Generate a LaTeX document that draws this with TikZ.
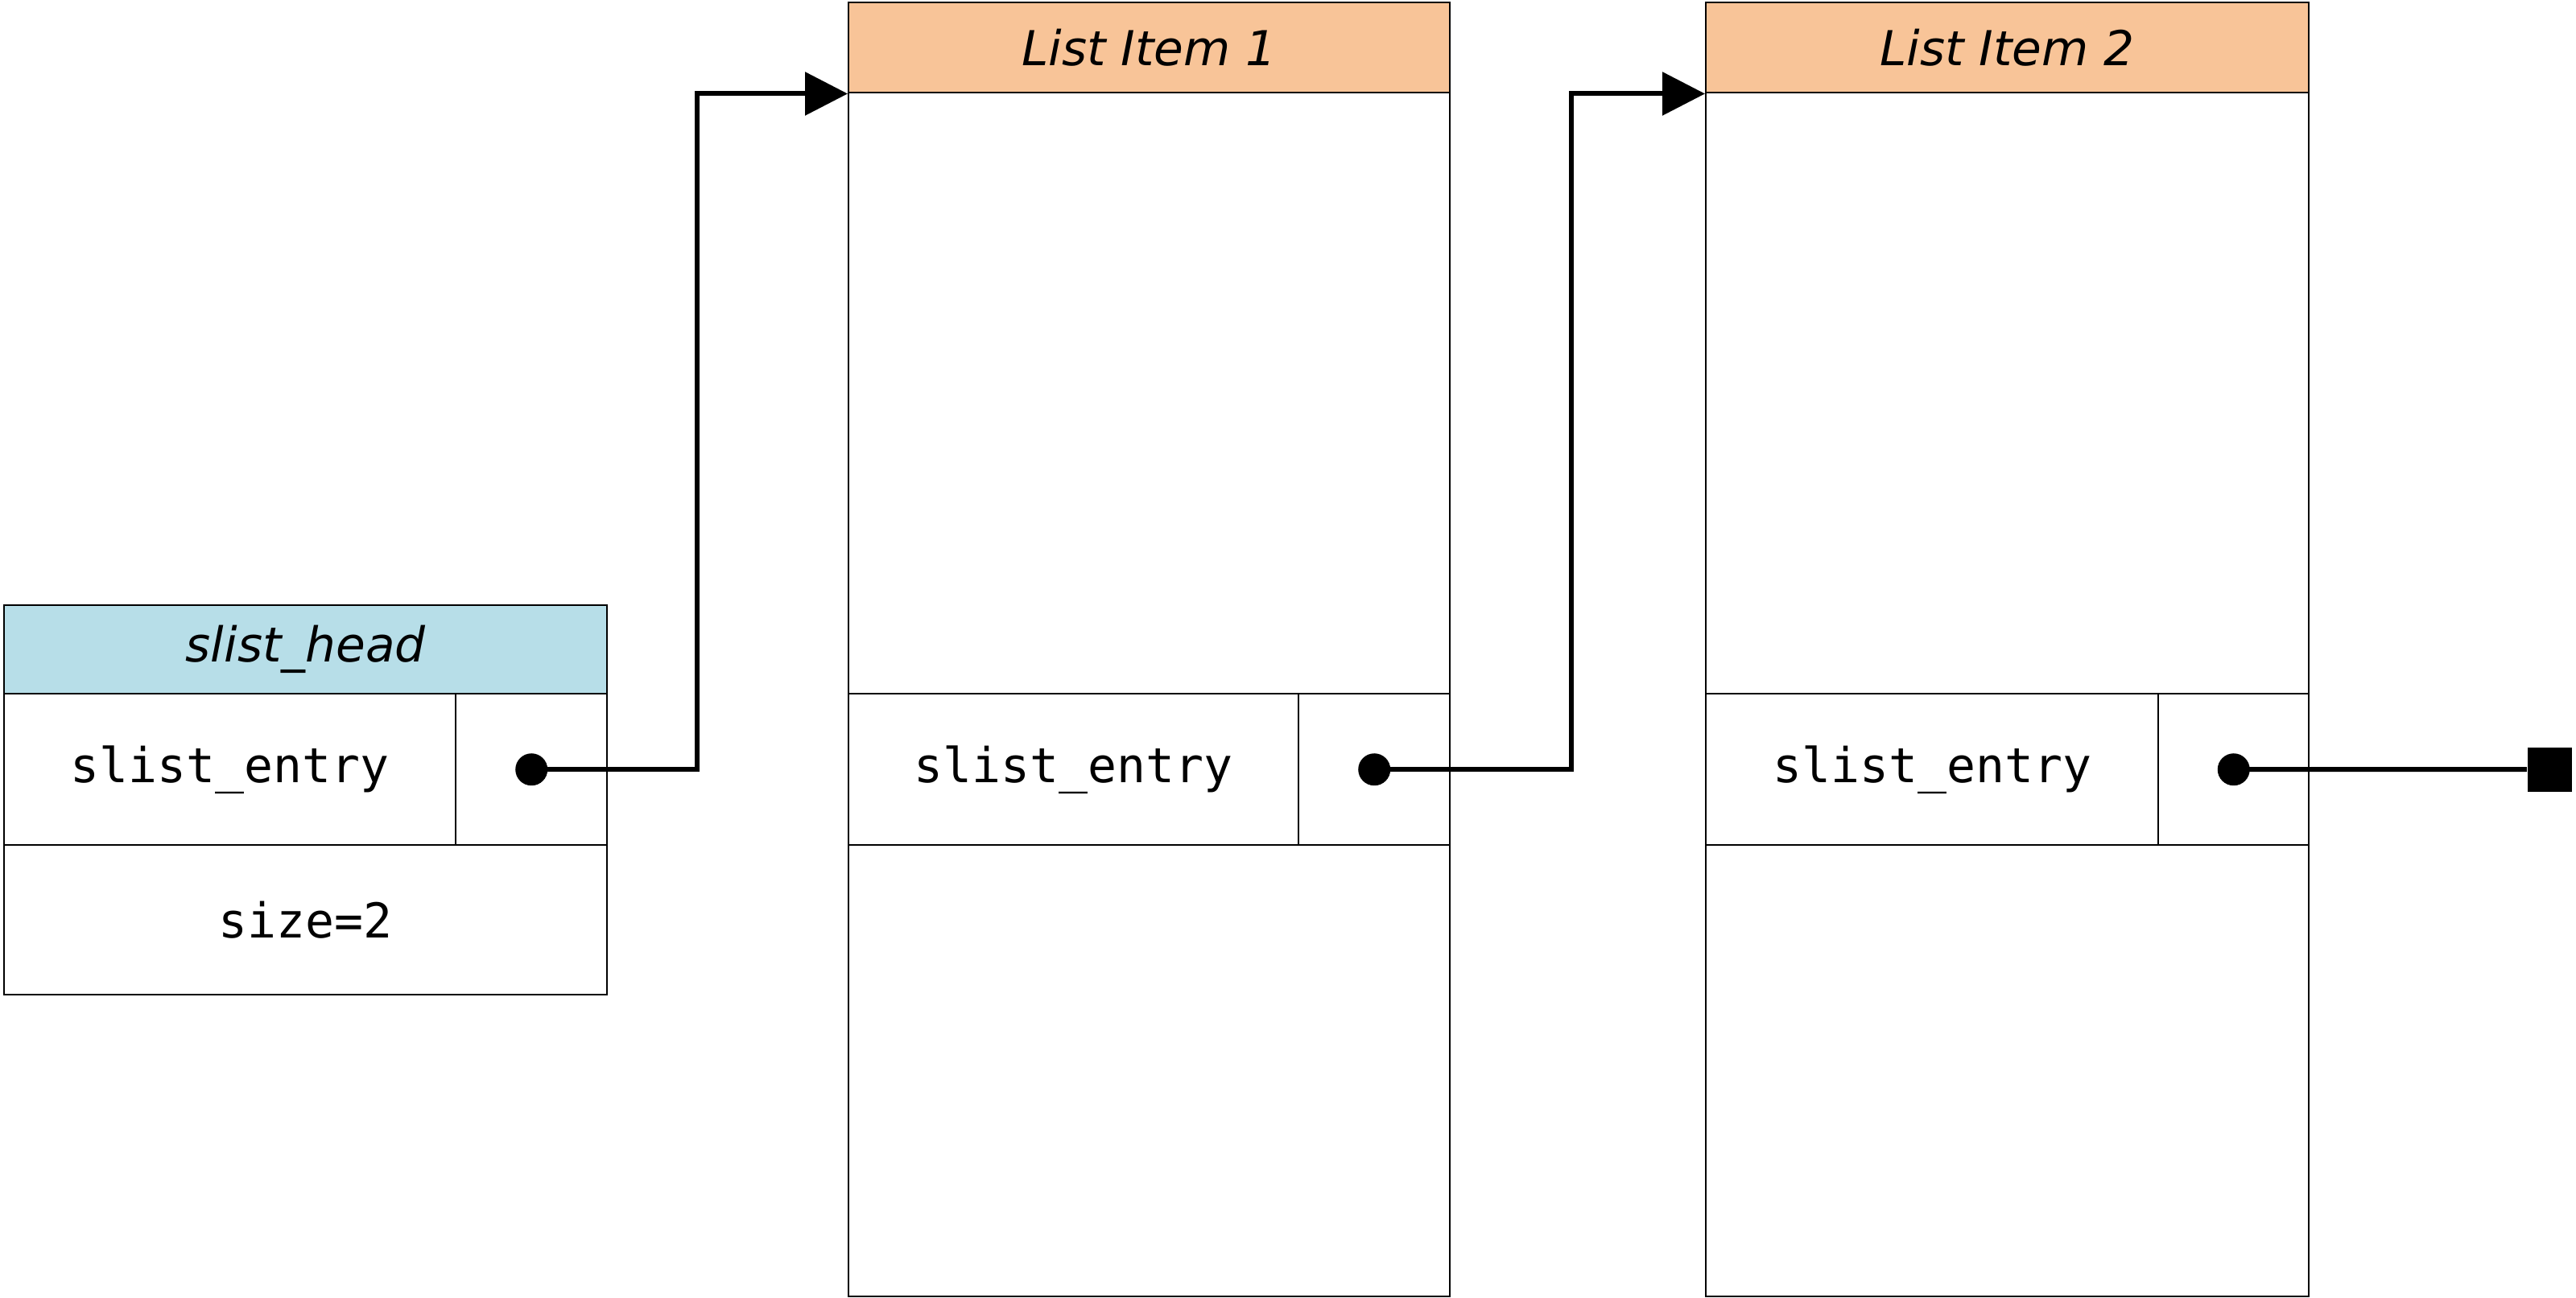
\documentclass[tikz,border=0pt]{standalone}
\usepackage{fontspec}
\setmainfont{DejaVu Sans}
\setmonofont{DejaVu Sans Mono}
\usetikzlibrary{arrows.meta}
\definecolor{headblue}{RGB}{183,222,232}
\definecolor{itemorange}{RGB}{248,196,152}
\begin{document}
\begin{tikzpicture}[x=1cm,y=-1cm,
  cell/.style={draw,line width=0.7pt,anchor=north west,inner sep=0pt,
    font=\fontsize{17}{20}\selectfont\ttfamily},
  titlecell/.style={cell,font=\fontsize{17}{20}\selectfont\itshape},
  link/.style={line width=1.7pt,-{Triangle[length=0.53cm,width=0.53cm]}}]

\useasboundingbox (0,0) rectangle (32,16.13);

% head
\node[titlecell,fill=headblue,minimum width=7.49cm,minimum height=1.10cm] (headtitle) at (0.04,7.51) {slist\_head};
\node[cell,minimum width=5.61cm,minimum height=1.88cm] (headentry) at (0.04,8.61) {slist\_entry};
\node[cell,minimum width=1.88cm,minimum height=1.88cm] (headptr) at (5.65,8.61) {};
\node[cell,minimum width=7.49cm,minimum height=1.86cm] (headsize) at (0.04,10.49) {size=2};

% item 1
\node[titlecell,fill=itemorange,minimum width=7.47cm,minimum height=1.12cm] (item1title) at (10.53,0.02) {List Item 1};
\node[cell,minimum width=7.47cm,minimum height=7.47cm] (item1body) at (10.53,1.14) {};
\node[cell,minimum width=5.59cm,minimum height=1.88cm] (item1entry) at (10.53,8.61) {slist\_entry};
\node[cell,minimum width=1.88cm,minimum height=1.88cm] (item1ptr) at (16.12,8.61) {};
\node[cell,minimum width=7.47cm,minimum height=5.61cm] (item1rest) at (10.53,10.49) {};

% item 2
\node[titlecell,fill=itemorange,minimum width=7.49cm,minimum height=1.12cm] (item2title) at (21.18,0.02) {List Item 2};
\node[cell,minimum width=7.49cm,minimum height=7.47cm] (item2body) at (21.18,1.14) {};
\node[cell,minimum width=5.62cm,minimum height=1.88cm] (item2entry) at (21.18,8.61) {slist\_entry};
\node[cell,minimum width=1.87cm,minimum height=1.88cm] (item2ptr) at (26.80,8.61) {};
\node[cell,minimum width=7.49cm,minimum height=5.61cm] (item2rest) at (21.18,10.49) {};

% end of list
\node[fill=black,minimum size=0.55cm,inner sep=0pt] (nil) at (31.67,9.56) {};

\draw[link] (headptr.center) -- ++(2.06,0) |- (item1title.south west);
\draw[link] (item1ptr.center) -- ++(2.45,0) |- (item2title.south west);
\draw[line width=1.7pt] (item2ptr.center) -- (nil.west);

\fill (headptr.center) circle (0.2);
\fill (item1ptr.center) circle (0.2);
\fill (item2ptr.center) circle (0.2);

\end{tikzpicture}
\end{document}
